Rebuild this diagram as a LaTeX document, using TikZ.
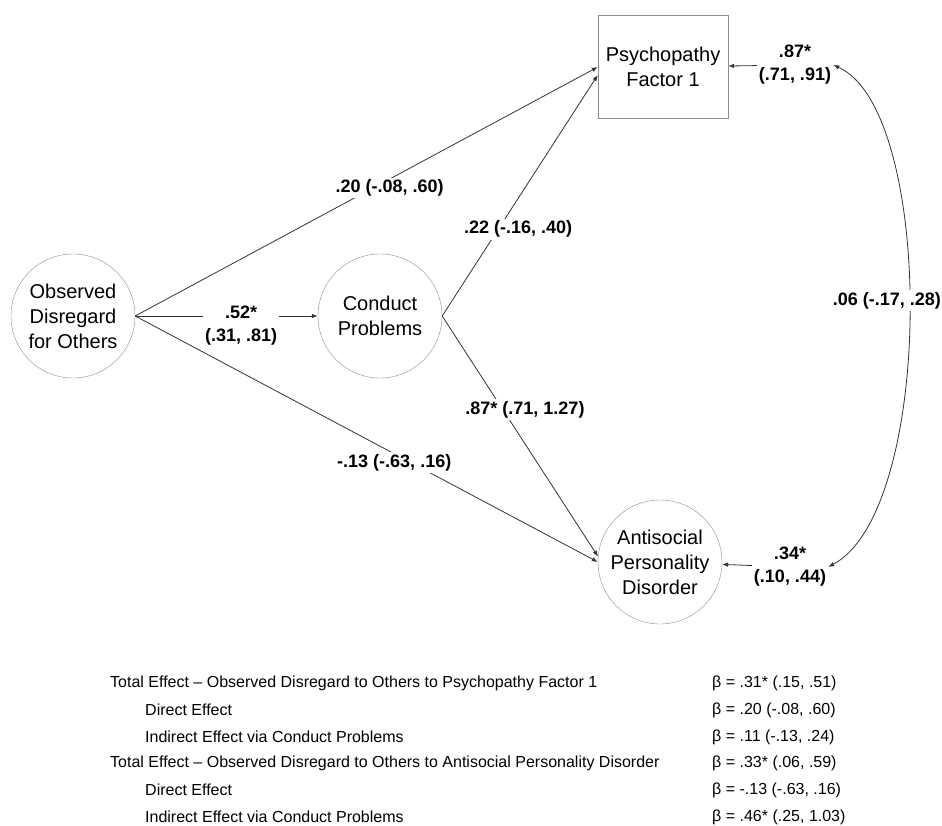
\documentclass[tikz,border=0pt]{standalone}
\usepackage{fontspec}
\setmainfont{Liberation Sans}
\usetikzlibrary{arrows.meta}

\begin{document}
\begin{tikzpicture}[x=1pt, y=-1pt, >={Latex[length=6pt,width=4.5pt]},
var/.style={draw=black!45, circle, minimum size=124pt, inner sep=0pt, align=center, font=\fontsize{20}{25}\selectfont},
obs/.style={draw=black!45, rectangle, minimum width=130pt, minimum height=103pt, inner sep=0pt, align=center, font=\fontsize{20}{25}\selectfont},
coef/.style={fill=white, inner sep=2pt, align=center, font=\bfseries\fontsize{18}{23}\selectfont},
path/.style={->, draw=black!80, line width=0.8pt},
row/.style={anchor=west, inner sep=0pt, font=\fontsize{16}{18}\selectfont}]
\useasboundingbox (0,0) rectangle (942,825);
\node[var] (x) at (73,316) {Observed\\Disregard\\for Others};
\node[var] (c) at (380,316) {Conduct\\Problems};
\node[obs] (p) at (663,67) {Psychopathy\\Factor 1};
\node[var] (a) at (660,562) {Antisocial\\Personality\\Disorder};
\node[coef] (r1) at (795,65) {.87*\\(.71, .91)};
\node[coef] (r2) at (790,567) {.34*\\(.10, .44)};
\draw[path] (x.east) -- (p.west) node[coef, pos=.55, yshift=-9pt]{.20 (-.08, .60)};
\draw[path] (x.east) -- (c.west) node[coef, pos=.58, yshift=-10pt]{.52*\\(.31, .81)};
\draw[path] (x.east) -- (a.west) node[coef, pos=.56, yshift=-9pt]{-.13 (-.63, .16)};
\draw[path] (c.east) -- (p.187) node[coef, pos=.36, xshift=20pt]{.22 (-.16, .40)};
\draw[path] (c.east) -- (a.175) node[coef, pos=.39, xshift=22pt]{.87* (.71, 1.27)};
\draw[path] (r1) -- (p);
\draw[path] (r2) -- (a);
\draw[path, <->] (r1.east) .. controls (935,110) and (935,510) .. (r2.east) node[coef, pos=.5, xshift=-22pt, yshift=11pt]{.06 (-.17, .28)};
\node[row] (t1) at (110,683) {Total Effect – Observed Disregard to Others to Psychopathy Factor 1};
\node[row] (t2) at (145,710) {Direct Effect};
\node[row] (t3) at (145,737) {Indirect Effect via Conduct Problems};
\node[row] (t4) at (110,763) {Total Effect – Observed Disregard to Others to Antisocial Personality Disorder};
\node[row] (t5) at (145,790) {Direct Effect};
\node[row] (t6) at (145,817) {Indirect Effect via Conduct Problems};
\node[row] (b1) at (712,683) {β = .31* (.15, .51)};
\node[row] (b2) at (712,710) {β = .20 (-.08, .60)};
\node[row] (b3) at (712,737) {β = .11 (-.13, .24)};
\node[row] (b4) at (712,763) {β = .33* (.06, .59)};
\node[row] (b5) at (712,790) {β = -.13 (-.63, .16)};
\node[row] (b6) at (712,817) {β = .46* (.25, 1.03)};
\end{tikzpicture}
\end{document}
